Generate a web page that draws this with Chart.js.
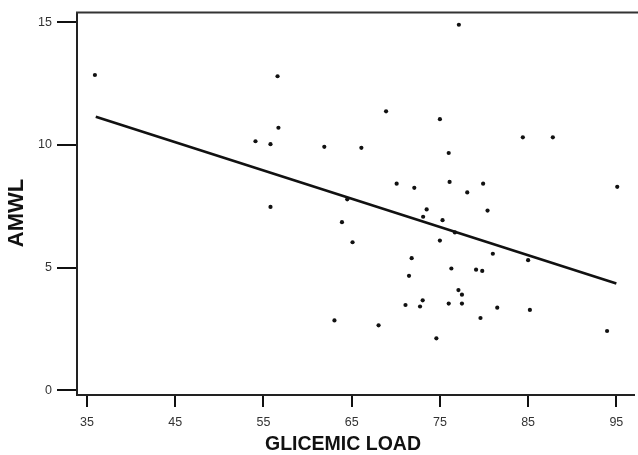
<!DOCTYPE html>
<html>
<head>
<meta charset="utf-8">
<script src="https://cdn.jsdelivr.net/npm/chart.js@4/dist/chart.umd.min.js"></script>
<style>
  html, body { margin: 0; padding: 0; background: #fff; }
  #wrap { width: 638px; height: 455px; position: relative; }
</style>
</head>
<body>
<div id="wrap"><canvas id="scatterChart"></canvas></div>
<script>
// --- Data ---
const glycemicLoad = [35.9, 56.6, 56.7, 54.1, 55.8, 61.9, 55.8, 77.15, 68.9, 75.0,
    66.1, 76.0, 84.4, 87.8, 70.1, 72.1, 76.1, 79.9, 78.1, 95.1,
    73.5, 80.4, 73.1, 75.3, 63.9, 64.5, 65.1, 75.0, 76.7, 81.0,
    85.0, 71.8, 76.3, 79.1, 79.8, 71.5, 77.1, 77.5, 73.05, 71.1,
    72.75, 76.0, 77.5, 81.5, 85.2, 63.05, 68.05, 79.6, 74.6, 93.95];
const amwl = [12.85, 12.8, 10.7, 10.15, 10.03, 9.92, 7.47, 14.9, 11.37, 11.05,
    9.88, 9.67, 10.31, 10.31, 8.42, 8.25, 8.49, 8.42, 8.06, 8.29,
    7.37, 7.32, 7.07, 6.93, 6.85, 7.78, 6.03, 6.10, 6.43, 5.56,
    5.30, 5.38, 4.96, 4.91, 4.86, 4.66, 4.08, 3.89, 3.66, 3.47,
    3.41, 3.53, 3.53, 3.36, 3.27, 2.84, 2.64, 2.94, 2.11, 2.41];

// fitted line end points
const fitX = [36, 95];
const fitY = [11.15, 4.35];

const xTicks = [35, 45, 55, 65, 75, 85, 95];
const yTicks = [0, 5, 10, 15];

const xTitle = 'GLICEMIC LOAD';
const yTitle = 'AMWL';

// --- Plugin: frame top edge + axis titles ---
const frameAndTitles = {
    id: 'frameAndTitles',
    afterDraw(chart) {
        const { ctx, chartArea } = chart;
        ctx.save();
        ctx.strokeStyle = '#333';
        ctx.lineWidth = 2;
        ctx.beginPath();
        ctx.moveTo(chartArea.left - 1, chartArea.top);
        ctx.lineTo(chart.width, chartArea.top);
        ctx.stroke();

        ctx.fillStyle = '#111';
        ctx.textAlign = 'center';
        ctx.textBaseline = 'middle';
        ctx.font = 'bold 19.5px "Liberation Sans", Arial, sans-serif';
        ctx.fillText(xTitle, 343, 445);

        ctx.translate(17, 213);
        ctx.rotate(-Math.PI / 2);
        ctx.font = 'bold 22px "Liberation Sans", Arial, sans-serif';
        ctx.fillText(yTitle, 0, 0);
        ctx.restore();
    }
};

const tickFont = { family: '"Liberation Sans", Arial, sans-serif', size: 12.5 };

const points = glycemicLoad.map((x, i) => ({ x: x, y: amwl[i] }));
const fitLine = fitX.map((x, i) => ({ x: x, y: fitY[i] }));

new Chart(document.getElementById('scatterChart'), {
    type: 'scatter',
    data: {
        datasets: [
            {
                label: 'Observed',
                data: points,
                pointRadius: 2.1,
                pointBackgroundColor: '#111',
                pointBorderWidth: 0
            },
            {
                type: 'line',
                label: 'Fit',
                data: fitLine,
                borderColor: '#111',
                borderWidth: 2.6,
                pointRadius: 0,
                fill: false
            }
        ]
    },
    plugins: [frameAndTitles],
    options: {
        responsive: true,
        maintainAspectRatio: false,
        animation: false,
        layout: { padding: { top: 12, right: 1, left: 0, bottom: 0 } },
        plugins: {
            legend: { display: false },
            tooltip: { enabled: false }
        },
        scales: {
            x: {
                type: 'linear',
                min: 33.87,
                max: 97,
                afterBuildTicks: (scale) => { scale.ticks = xTicks.map(v => ({ value: v })); },
                afterFit: (scale) => { scale.height = 60; },
                grid: { drawOnChartArea: false, drawTicks: true, tickLength: 12, color: '#111', lineWidth: 2 },
                border: { display: true, color: '#222', width: 2 },
                ticks: { font: tickFont, color: '#333', padding: 8, maxRotation: 0 }
            },
            y: {
                min: -0.2,
                max: 15.4,
                afterBuildTicks: (scale) => { scale.ticks = yTicks.map(v => ({ value: v })); },
                afterFit: (scale) => { scale.width = 77; },
                grid: { drawOnChartArea: false, drawTicks: true, tickLength: 20, color: '#111', lineWidth: 2 },
                border: { display: true, color: '#222', width: 2 },
                ticks: { font: tickFont, color: '#333', padding: 5 }
            }
        }
    }
});
</script>
</body>
</html>
